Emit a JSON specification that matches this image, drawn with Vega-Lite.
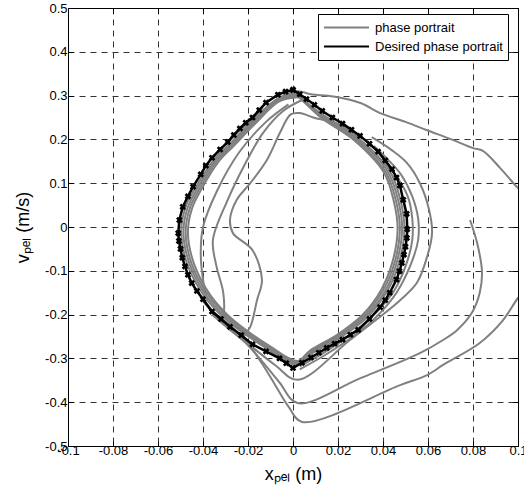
{
"$schema":"https://vega.github.io/schema/vega-lite/v6.json",
"width":450,"height":438,
"autosize":"none",
"padding":{"left":68,"top":8,"right":6,"bottom":49},
"background":"white",
"config":{"view":{"stroke":"black","strokeWidth":1},"axis":{"labelFont":"Liberation Sans","labelFontSize":13,"labelColor":"black"}},
"datasets":{
"gray":[
{"t":"a","i":1,"x":-0.03,"v":0.19},{"t":"a","i":2,"x":-0.016,"v":0.255},{"t":"a","i":3,"x":-0.006,"v":0.295},{"t":"a","i":4,"x":0.002,"v":0.31},{"t":"a","i":5,"x":0.008,"v":0.303},{"t":"a","i":6,"x":0.018,"v":0.298},{"t":"a","i":7,"x":0.03,"v":0.283},{"t":"a","i":8,"x":0.0387,"v":0.26},{"t":"a","i":9,"x":0.05,"v":0.24},{"t":"a","i":10,"x":0.0596,"v":0.221},{"t":"a","i":11,"x":0.071,"v":0.199},{"t":"a","i":12,"x":0.08,"v":0.18},{"t":"a","i":13,"x":0.0844,"v":0.174},{"t":"a","i":14,"x":0.092,"v":0.135},{"t":"a","i":15,"x":0.0996,"v":0.091},{"t":"a","i":16,"x":0.104,"v":0.07},
{"t":"b","i":1,"x":-0.042,"v":-0.15},{"t":"b","i":2,"x":-0.036,"v":-0.19},{"t":"b","i":3,"x":-0.028,"v":-0.225},{"t":"b","i":4,"x":-0.02,"v":-0.265},{"t":"b","i":5,"x":-0.014,"v":-0.31},{"t":"b","i":6,"x":-0.008,"v":-0.36},{"t":"b","i":7,"x":-0.002,"v":-0.41},{"t":"b","i":8,"x":0.004,"v":-0.445},{"t":"b","i":9,"x":0.0476,"v":-0.361},{"t":"b","i":10,"x":0.0596,"v":-0.338},{"t":"b","i":11,"x":0.0667,"v":-0.315},{"t":"b","i":12,"x":0.083,"v":-0.265},{"t":"b","i":13,"x":0.093,"v":-0.215},{"t":"b","i":14,"x":0.1,"v":-0.162},{"t":"b","i":15,"x":0.106,"v":-0.125},
{"t":"c","i":1,"x":0.0787,"v":0.016},{"t":"c","i":2,"x":0.082,"v":-0.04},{"t":"c","i":3,"x":0.084,"v":-0.103},{"t":"c","i":4,"x":0.083,"v":-0.15},{"t":"c","i":5,"x":0.0795,"v":-0.196},{"t":"c","i":6,"x":0.073,"v":-0.235},{"t":"c","i":7,"x":0.0667,"v":-0.258},{"t":"c","i":8,"x":0.0564,"v":-0.288},{"t":"c","i":9,"x":0.03,"v":-0.345},{"t":"c","i":10,"x":0.002,"v":-0.402},{"t":"c","i":11,"x":-0.006,"v":-0.355},{"t":"c","i":12,"x":-0.014,"v":-0.305},{"t":"c","i":13,"x":-0.022,"v":-0.26},{"t":"c","i":14,"x":-0.032,"v":-0.215},{"t":"c","i":15,"x":-0.04,"v":-0.17},
{"t":"d","i":1,"x":-0.036,"v":-0.2},{"t":"d","i":2,"x":-0.028,"v":-0.235},{"t":"d","i":3,"x":-0.018,"v":-0.275},{"t":"d","i":4,"x":-0.008,"v":-0.315},{"t":"d","i":5,"x":0.002,"v":-0.349},{"t":"d","i":6,"x":0.0253,"v":-0.258},{"t":"d","i":7,"x":0.0387,"v":-0.205},{"t":"d","i":8,"x":0.0476,"v":-0.167},{"t":"d","i":9,"x":0.055,"v":-0.128},{"t":"d","i":10,"x":0.0596,"v":-0.068},{"t":"d","i":11,"x":0.0618,"v":-0.014},{"t":"d","i":12,"x":0.0605,"v":0.039},{"t":"d","i":13,"x":0.0564,"v":0.1},{"t":"d","i":14,"x":0.0507,"v":0.146},{"t":"d","i":15,"x":0.044,"v":0.175},{"t":"d","i":16,"x":0.035,"v":0.205},
{"t":"e","i":1,"x":0.003,"v":-0.325},{"t":"e","i":2,"x":0.015,"v":-0.29},{"t":"e","i":3,"x":0.028,"v":-0.245},{"t":"e","i":4,"x":0.038,"v":-0.2},{"t":"e","i":5,"x":0.046,"v":-0.15},{"t":"e","i":6,"x":0.052,"v":-0.09},{"t":"e","i":7,"x":0.0556,"v":-0.03},{"t":"e","i":8,"x":0.0556,"v":0.02},{"t":"e","i":9,"x":0.053,"v":0.07},{"t":"e","i":10,"x":0.048,"v":0.12},{"t":"e","i":11,"x":0.042,"v":0.155},{"t":"e","i":12,"x":0.036,"v":0.185},
{"t":"f","i":1,"x":0.003,"v":-0.318},{"t":"f","i":2,"x":0.015,"v":-0.283},{"t":"f","i":3,"x":0.027,"v":-0.24},{"t":"f","i":4,"x":0.037,"v":-0.195},{"t":"f","i":5,"x":0.045,"v":-0.145},{"t":"f","i":6,"x":0.05,"v":-0.09},{"t":"f","i":7,"x":0.053,"v":-0.03},{"t":"f","i":8,"x":0.053,"v":0.02},{"t":"f","i":9,"x":0.051,"v":0.07},{"t":"f","i":10,"x":0.046,"v":0.115},{"t":"f","i":11,"x":0.04,"v":0.15},
{"t":"g","i":1,"x":0.03,"v":0.205},{"t":"g","i":2,"x":0.02,"v":0.235},{"t":"g","i":3,"x":0.009,"v":0.25},{"t":"g","i":4,"x":0.003,"v":0.26},{"t":"g","i":5,"x":-0.001,"v":0.257},{"t":"g","i":6,"x":-0.0058,"v":0.215},{"t":"g","i":7,"x":-0.0116,"v":0.153},{"t":"g","i":8,"x":-0.019,"v":0.1},{"t":"g","i":9,"x":-0.025,"v":0.062},{"t":"g","i":10,"x":-0.028,"v":0.016},{"t":"g","i":11,"x":-0.0267,"v":-0.014},{"t":"g","i":12,"x":-0.018,"v":-0.053},{"t":"g","i":13,"x":-0.0138,"v":-0.121},{"t":"g","i":14,"x":-0.016,"v":-0.167},{"t":"g","i":15,"x":-0.019,"v":-0.228},{"t":"g","i":16,"x":-0.022,"v":-0.25},
{"t":"h","i":1,"x":0.004,"v":0.29},{"t":"h","i":2,"x":-0.0044,"v":0.265},{"t":"h","i":3,"x":-0.0133,"v":0.215},{"t":"h","i":4,"x":-0.022,"v":0.137},{"t":"h","i":5,"x":-0.029,"v":0.062},{"t":"h","i":6,"x":-0.0356,"v":-0.03},{"t":"h","i":7,"x":-0.034,"v":-0.09},{"t":"h","i":8,"x":-0.031,"v":-0.15},{"t":"h","i":9,"x":-0.031,"v":-0.2},{"t":"h","i":10,"x":-0.033,"v":-0.215},
{"t":"k","i":1,"x":-0.002,"v":0.28},{"t":"k","i":2,"x":-0.012,"v":0.24},{"t":"k","i":3,"x":-0.024,"v":0.17},{"t":"k","i":4,"x":-0.034,"v":0.08},{"t":"k","i":5,"x":-0.04,"v":0.0},{"t":"k","i":6,"x":-0.041,"v":-0.06},{"t":"k","i":7,"x":-0.04,"v":-0.12},{"t":"k","i":8,"x":-0.038,"v":-0.17},
{"t":"l1","i":1,"x":0.001,"v":0.305},{"t":"l1","i":2,"x":0.0127,"v":0.2584},{"t":"l1","i":3,"x":0.0291,"v":0.2028},{"t":"l1","i":4,"x":0.0429,"v":0.1287},{"t":"l1","i":5,"x":0.0478,"v":0.0605},{"t":"l1","i":6,"x":0.0495,"v":-0.0049},{"t":"l1","i":7,"x":0.0472,"v":-0.08},{"t":"l1","i":8,"x":0.0419,"v":-0.1463},{"t":"l1","i":9,"x":0.0332,"v":-0.2048},{"t":"l1","i":10,"x":0.0215,"v":-0.2506},{"t":"l1","i":11,"x":0.0078,"v":-0.2906},{"t":"l1","i":12,"x":0.001,"v":-0.314},{"t":"l1","i":13,"x":-0.0117,"v":-0.2769},{"t":"l1","i":14,"x":-0.0224,"v":-0.2408},{"t":"l1","i":15,"x":-0.0312,"v":-0.2048},{"t":"l1","i":16,"x":-0.039,"v":-0.1609},{"t":"l1","i":17,"x":-0.0468,"v":-0.0878},{"t":"l1","i":18,"x":-0.0497,"v":-0.0137},{"t":"l1","i":19,"x":-0.0478,"v":0.0449},{"t":"l1","i":20,"x":-0.0433,"v":0.0897},{"t":"l1","i":21,"x":-0.0351,"v":0.154},{"t":"l1","i":22,"x":-0.0283,"v":0.1892},{"t":"l1","i":23,"x":-0.0176,"v":0.2438},{"t":"l1","i":24,"x":-0.0065,"v":0.2945},{"t":"l1","i":25,"x":0.001,"v":0.305},
{"t":"l2","i":1,"x":0.002,"v":0.302},{"t":"l2","i":2,"x":0.0124,"v":0.2557},{"t":"l2","i":3,"x":0.0285,"v":0.2007},{"t":"l2","i":4,"x":0.042,"v":0.1274},{"t":"l2","i":5,"x":0.0468,"v":0.0598},{"t":"l2","i":6,"x":0.0485,"v":-0.0048},{"t":"l2","i":7,"x":0.0462,"v":-0.0791},{"t":"l2","i":8,"x":0.0411,"v":-0.1448},{"t":"l2","i":9,"x":0.0325,"v":-0.2027},{"t":"l2","i":10,"x":0.021,"v":-0.248},{"t":"l2","i":11,"x":0.0076,"v":-0.2876},{"t":"l2","i":12,"x":0.002,"v":-0.311},{"t":"l2","i":13,"x":-0.0115,"v":-0.2741},{"t":"l2","i":14,"x":-0.022,"v":-0.2384},{"t":"l2","i":15,"x":-0.0306,"v":-0.2027},{"t":"l2","i":16,"x":-0.0382,"v":-0.1592},{"t":"l2","i":17,"x":-0.0458,"v":-0.0869},{"t":"l2","i":18,"x":-0.0487,"v":-0.0135},{"t":"l2","i":19,"x":-0.0468,"v":0.0444},{"t":"l2","i":20,"x":-0.0424,"v":0.0888},{"t":"l2","i":21,"x":-0.0344,"v":0.1525},{"t":"l2","i":22,"x":-0.0277,"v":0.1872},{"t":"l2","i":23,"x":-0.0172,"v":0.2413},{"t":"l2","i":24,"x":-0.0064,"v":0.2914},{"t":"l2","i":25,"x":0.002,"v":0.302},
{"t":"l3","i":1,"x":0.002,"v":0.299},{"t":"l3","i":2,"x":0.0122,"v":0.2531},{"t":"l3","i":3,"x":0.0279,"v":0.1986},{"t":"l3","i":4,"x":0.0411,"v":0.1261},{"t":"l3","i":5,"x":0.0458,"v":0.0592},{"t":"l3","i":6,"x":0.0475,"v":-0.0048},{"t":"l3","i":7,"x":0.0453,"v":-0.0783},{"t":"l3","i":8,"x":0.0402,"v":-0.1433},{"t":"l3","i":9,"x":0.0318,"v":-0.2006},{"t":"l3","i":10,"x":0.0206,"v":-0.2454},{"t":"l3","i":11,"x":0.0075,"v":-0.2846},{"t":"l3","i":12,"x":0.002,"v":-0.308},{"t":"l3","i":13,"x":-0.0112,"v":-0.2712},{"t":"l3","i":14,"x":-0.0215,"v":-0.2359},{"t":"l3","i":15,"x":-0.0299,"v":-0.2006},{"t":"l3","i":16,"x":-0.0374,"v":-0.1576},{"t":"l3","i":17,"x":-0.0449,"v":-0.086},{"t":"l3","i":18,"x":-0.0477,"v":-0.0134},{"t":"l3","i":19,"x":-0.0458,"v":0.0439},{"t":"l3","i":20,"x":-0.0415,"v":0.0879},{"t":"l3","i":21,"x":-0.0337,"v":0.1509},{"t":"l3","i":22,"x":-0.0271,"v":0.1853},{"t":"l3","i":23,"x":-0.0168,"v":0.2388},{"t":"l3","i":24,"x":-0.0063,"v":0.2884},{"t":"l3","i":25,"x":0.002,"v":0.299},
{"t":"l4","i":1,"x":0.003,"v":0.297},{"t":"l4","i":2,"x":0.0119,"v":0.2518},{"t":"l4","i":3,"x":0.0273,"v":0.1976},{"t":"l4","i":4,"x":0.0403,"v":0.1254},{"t":"l4","i":5,"x":0.0448,"v":0.0589},{"t":"l4","i":6,"x":0.0465,"v":-0.0048},{"t":"l4","i":7,"x":0.0443,"v":-0.0779},{"t":"l4","i":8,"x":0.0393,"v":-0.1425},{"t":"l4","i":9,"x":0.0311,"v":-0.1995},{"t":"l4","i":10,"x":0.0201,"v":-0.2442},{"t":"l4","i":11,"x":0.0073,"v":-0.2831},{"t":"l4","i":12,"x":0.002,"v":-0.306},{"t":"l4","i":13,"x":-0.011,"v":-0.2698},{"t":"l4","i":14,"x":-0.021,"v":-0.2347},{"t":"l4","i":15,"x":-0.0293,"v":-0.1995},{"t":"l4","i":16,"x":-0.0366,"v":-0.1568},{"t":"l4","i":17,"x":-0.0439,"v":-0.0855},{"t":"l4","i":18,"x":-0.0467,"v":-0.0133},{"t":"l4","i":19,"x":-0.0448,"v":0.0437},{"t":"l4","i":20,"x":-0.0406,"v":0.0874},{"t":"l4","i":21,"x":-0.0329,"v":0.1501},{"t":"l4","i":22,"x":-0.0265,"v":0.1843},{"t":"l4","i":23,"x":-0.0165,"v":0.2375},{"t":"l4","i":24,"x":-0.0061,"v":0.2869},{"t":"l4","i":25,"x":0.003,"v":0.297}
],
"desired":[
{"i":1,"x":0,"v":0.313},{"i":2,"x":0.003,"v":0.303},{"i":3,"x":0.006,"v":0.292},{"i":4,"x":0.0095,"v":0.279},{"i":5,"x":0.013,"v":0.265},{"i":6,"x":0.0175,"v":0.25},{"i":7,"x":0.022,"v":0.236},{"i":8,"x":0.026,"v":0.222},{"i":9,"x":0.0298,"v":0.208},{"i":10,"x":0.034,"v":0.19},{"i":11,"x":0.0378,"v":0.172},{"i":12,"x":0.041,"v":0.152},{"i":13,"x":0.044,"v":0.132},{"i":14,"x":0.046,"v":0.113},{"i":15,"x":0.0475,"v":0.095},{"i":16,"x":0.049,"v":0.062},{"i":17,"x":0.0505,"v":0.03},{"i":18,"x":0.0508,"v":-0.005},{"i":19,"x":0.0506,"v":-0.025},{"i":20,"x":0.05,"v":-0.045},{"i":21,"x":0.0493,"v":-0.063},{"i":22,"x":0.0484,"v":-0.082},{"i":23,"x":0.0473,"v":-0.101},{"i":24,"x":0.046,"v":-0.12},{"i":25,"x":0.043,"v":-0.15},{"i":26,"x":0.041,"v":-0.167},{"i":27,"x":0.0387,"v":-0.183},{"i":28,"x":0.034,"v":-0.21},{"i":29,"x":0.029,"v":-0.235},{"i":30,"x":0.0255,"v":-0.246},{"i":31,"x":0.022,"v":-0.257},{"i":32,"x":0.0185,"v":-0.2665},{"i":33,"x":0.015,"v":-0.276},{"i":34,"x":0.0115,"v":-0.287},{"i":35,"x":0.008,"v":-0.298},{"i":36,"x":0.004,"v":-0.31},{"i":37,"x":0,"v":-0.322},{"i":38,"x":-0.003,"v":-0.311},{"i":39,"x":-0.006,"v":-0.3},{"i":40,"x":-0.012,"v":-0.284},{"i":41,"x":-0.018,"v":-0.268},{"i":42,"x":-0.023,"v":-0.247},{"i":43,"x":-0.028,"v":-0.228},{"i":44,"x":-0.032,"v":-0.21},{"i":45,"x":-0.036,"v":-0.193},{"i":46,"x":-0.04,"v":-0.165},{"i":47,"x":-0.0427,"v":-0.146},{"i":48,"x":-0.045,"v":-0.128},{"i":49,"x":-0.0467,"v":-0.109},{"i":50,"x":-0.048,"v":-0.09},{"i":51,"x":-0.0492,"v":-0.07},{"i":52,"x":-0.05,"v":-0.05},{"i":53,"x":-0.0507,"v":-0.032},{"i":54,"x":-0.051,"v":-0.014},{"i":55,"x":-0.0505,"v":0.016},{"i":56,"x":-0.049,"v":0.046},{"i":57,"x":-0.0467,"v":0.07},{"i":58,"x":-0.0444,"v":0.092},{"i":59,"x":-0.041,"v":0.12},{"i":60,"x":-0.0387,"v":0.14},{"i":61,"x":-0.036,"v":0.158},{"i":62,"x":-0.0324,"v":0.177},{"i":63,"x":-0.029,"v":0.194},{"i":64,"x":-0.0263,"v":0.21},{"i":65,"x":-0.0236,"v":0.225},{"i":66,"x":-0.021,"v":0.238},{"i":67,"x":-0.018,"v":0.25},{"i":68,"x":-0.015,"v":0.267},{"i":69,"x":-0.012,"v":0.284},{"i":70,"x":-0.0067,"v":0.302},{"i":71,"x":-0.0033,"v":0.309},{"i":72,"x":0,"v":0.313}
]},
"layer":[
{"data":{"name":"gray"},
 "mark":{"type":"line","strokeWidth":2,"clip":true,"interpolate":"catmull-rom"},
 "encoding":{
  "x":{"field":"x","type":"quantitative","scale":{"domain":[-0.1,0.1],"nice":false,"zero":false},
   "axis":{"orient":"bottom","values":[-0.1,-0.08,-0.06,-0.04,-0.02,0,0.02,0.04,0.06,0.08,0.1],"labelExpr":"replace(format(datum.value,'~g'),'−','-')","title":"xₚₑₗ (m)","grid":true,"gridDash":[6,5],"gridColor":"#333333","gridOpacity":1,"tickSize":-5,"tickColor":"black","domainColor":"black","labelFont":"Liberation Sans","labelFontSize":13,"labelColor":"black","labelPadding":3,"labelFlush":false,"labelOverlap":false,"titleFont":"Liberation Sans","titleFontSize":18,"titleFontWeight":"normal","titleColor":"black","titlePadding":8}},
  "y":{"field":"v","type":"quantitative","scale":{"domain":[-0.5,0.5],"nice":false,"zero":false},
   "axis":{"orient":"left","values":[-0.5,-0.4,-0.3,-0.2,-0.1,0,0.1,0.2,0.3,0.4,0.5],"labelExpr":"replace(format(datum.value,'~g'),'−','-')","title":"vₚₑₗ (m/s)","grid":true,"gridDash":[6,5],"gridColor":"#333333","gridOpacity":1,"tickSize":-5,"tickColor":"black","domainColor":"black","labelFont":"Liberation Sans","labelFontSize":13,"labelColor":"black","labelPadding":6,"labelFlush":false,"labelOverlap":false,"titleFont":"Liberation Sans","titleFontSize":18,"titleFontWeight":"normal","titleColor":"black","titlePadding":12}},
  "detail":{"field":"t","type":"nominal"},
  "order":{"field":"i","type":"quantitative"},
  "color":{"datum":"phase portrait","type":"nominal","scale":{"domain":["phase portrait","Desired phase portrait"],"range":["#808080","#000000"]},
   "legend":{"orient":"none","legendX":250,"legendY":6,"title":null,"strokeColor":"black","fillColor":"white","padding":5,"symbolType":"stroke","symbolSize":2025,"symbolStrokeWidth":2,"clipHeight":17,"labelFont":"Liberation Sans","labelFontSize":13,"labelColor":"black","rowPadding":2,"labelOffset":5}}
 }},
{"data":{"name":"desired"},
 "mark":{"type":"line","strokeWidth":2.5,"clip":true,"point":{"shape":"cross","angle":45,"size":45,"filled":true,"color":"black"}},
 "encoding":{
  "x":{"field":"x","type":"quantitative","axis":{"orient":"top","values":[-0.1,-0.08,-0.06,-0.04,-0.02,0,0.02,0.04,0.06,0.08,0.1],"labels":false,"title":null,"grid":false,"tickSize":-5,"tickColor":"black","domainColor":"black"}},
  "y":{"field":"v","type":"quantitative","axis":{"orient":"right","values":[-0.5,-0.4,-0.3,-0.2,-0.1,0,0.1,0.2,0.3,0.4,0.5],"labels":false,"title":null,"grid":false,"tickSize":-5,"tickColor":"black","domainColor":"black"}},
  "order":{"field":"i","type":"quantitative"},
  "color":{"datum":"Desired phase portrait","type":"nominal"}
 }}
],
"resolve":{"axis":{"x":"independent","y":"independent"}}
}
